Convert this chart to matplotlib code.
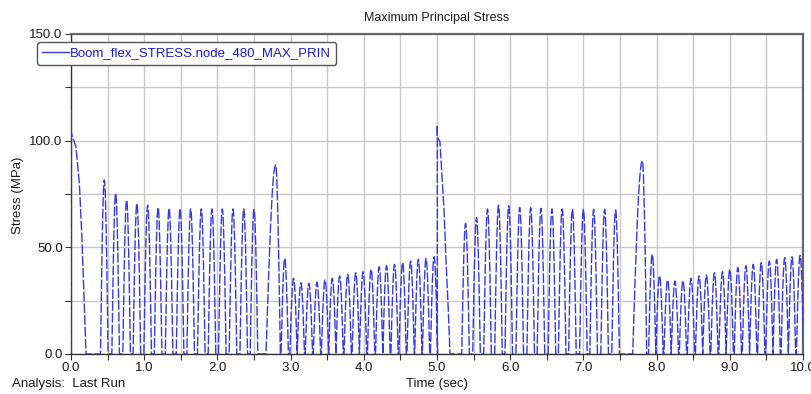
import numpy as np
import matplotlib
matplotlib.use("Agg")
import matplotlib.pyplot as plt
from matplotlib.ticker import MultipleLocator, FormatStrFormatter

plt.rcParams['font.family'] = ['Liberation Sans', 'DejaVu Sans']

# Start-up and mid-run load steps: jump at the step, then decay to zero
step0_spike = 114.0
step0_t = [0.0, 0.068, 0.114, 0.146, 0.18, 0.205]
step0_v = [104.0, 97.0, 80.0, 57.0, 25.0, 0.0]

step5_spike = 107.4
step5_t = [5.004, 5.04, 5.064, 5.096, 5.123, 5.154, 5.178]
step5_v = [102.0, 99.5, 86.0, 67.5, 44.0, 20.6, 0.0]

# Slow cycles (period ~0.146 s)
peaks_a_t = [0.455, 0.61, 0.76, 0.90, 1.047, 1.19, 1.34, 1.49, 1.635, 1.78,
             1.926, 2.067, 2.213, 2.36, 2.50]
peaks_a_v = [81.6, 75.3, 72.2, 70.6, 69.8, 68.7, 68.3, 68.2, 68.0, 68.0,
             68.0, 68.0, 68.0, 68.0, 67.8]

peaks_c_t = [5.39, 5.54, 5.69, 5.84, 5.98, 6.13, 6.28, 6.42, 6.57, 6.71,
             6.85, 7.00, 7.14, 7.29, 7.44]
peaks_c_v = [61.2, 63.9, 68.0, 69.8, 69.5, 68.7, 68.6, 68.3, 68.0, 68.0,
             67.8, 67.8, 67.8, 67.8, 67.5]

# Fast cycles (period ~0.107 s)
peaks_b_t = [2.92, 3.04, 3.14, 3.25, 3.36, 3.47, 3.57, 3.67, 3.78, 3.89,
             3.99, 4.10, 4.21, 4.31, 4.42, 4.53, 4.64, 4.745, 4.85, 4.96]
peaks_b_v = [44.8, 35.5, 33.4, 33.1, 33.6, 34.7, 35.5, 36.6, 37.3, 38.1,
             38.6, 39.7, 40.9, 41.4, 42.0, 42.8, 43.6, 44.4, 44.8, 45.6]

peaks_d_t = [7.94, 8.04, 8.15, 8.25, 8.36, 8.47, 8.58, 8.68, 8.79, 8.90,
             9.00, 9.11, 9.22, 9.32, 9.43, 9.54, 9.64, 9.75, 9.85, 9.96, 10.07]
peaks_d_v = [46.7, 36.7, 34.7, 34.2, 34.4, 35.5, 36.6, 37.0, 38.1, 38.6,
             39.7, 40.5, 41.3, 42.0, 42.8, 43.6, 44.4, 45.2, 45.6, 46.2, 46.8]

# Transition pulses: start, peak time, peak value, end
big_start = [2.664, 7.673]
big_peak_t = [2.796, 7.805]
big_peak_v = [88.6, 90.6]
big_end = [2.86, 7.865]


def pulse(t0, tp, h, t1, n=12):
    up = np.linspace(t0, tp, n)
    dn = np.linspace(tp, t1, n)[1:]
    y_up = h * np.sin(0.5 * np.pi * (up - t0) / (tp - t0))
    y_dn = h * np.cos(0.5 * np.pi * (dn - tp) / (t1 - tp))
    return list(up) + list(dn), list(y_up) + list(y_dn)


pieces = []
for tp, h in zip(peaks_a_t + peaks_c_t, peaks_a_v + peaks_c_v):
    pieces.append(pulse(tp - 0.052, tp, h, tp + 0.052))
for tp, h in zip(peaks_b_t + peaks_d_t, peaks_b_v + peaks_d_v):
    pieces.append(pulse(tp - 0.05, tp, h, tp + 0.05))
for t0, tp, h, t1 in zip(big_start, big_peak_t, big_peak_v, big_end):
    pieces.append(pulse(t0, tp, h, t1))
pieces.append(([step0_t[0], step0_t[0]] + step0_t, [0.0, step0_spike] + step0_v))
pieces.append(([step5_t[0], step5_t[0]] + step5_t, [0.0, step5_spike] + step5_v))
pieces.sort(key=lambda p: p[0][0])

t = []
y = []
for px, py in pieces:
    t += px
    y += py

fig = plt.figure(figsize=(8.12, 3.94), dpi=100)
ax = fig.add_axes([71 / 812, 1 - 354 / 394, 732 / 812, 320 / 394])

ax.plot(t, y, color='#3838e0', lw=1.0, dashes=(7, 1.5), zorder=5,
        label='Boom_flex_STRESS.node_480_MAX_PRIN')

ax.set_xlim(0, 10)
ax.set_ylim(0, 150)
ax.xaxis.set_major_locator(MultipleLocator(1.0))
ax.xaxis.set_minor_locator(MultipleLocator(0.5))
ax.yaxis.set_major_locator(MultipleLocator(50))
ax.yaxis.set_minor_locator(MultipleLocator(25))
ax.xaxis.set_major_formatter(FormatStrFormatter('%.1f'))
ax.yaxis.set_major_formatter(FormatStrFormatter('%.1f'))
ax.grid(True, which='both', color='#c8c8c8', lw=1.0, zorder=0)
ax.set_axisbelow(True)
ax.tick_params(which='both', direction='out', length=4, width=0.8,
               color='#333333', labelsize=9.5, labelcolor='#1a1a1a', pad=2)

for side in ['left', 'bottom']:
    ax.spines[side].set_color('#333333')
    ax.spines[side].set_linewidth(1.0)
for side in ['top', 'right']:
    ax.spines[side].set_color('#666666')
    ax.spines[side].set_linewidth(1.6)

fig.text(437 / 812, 1 - 18 / 394, 'Maximum Principal Stress', ha='center',
         va='center', fontsize=9, color='#1a1a1a')
fig.text(437 / 812, 1 - 384 / 394, 'Time (sec)', ha='center', va='center',
         fontsize=9.5, color='#1a1a1a')
fig.text(12 / 812, 1 - 384 / 394, 'Analysis:  Last Run', ha='left',
         va='center', fontsize=9.5, color='#1a1a1a')
fig.text(18 / 812, 1 - 195 / 394, 'Stress (MPa)', ha='center', va='center',
         rotation=90, fontsize=9.5, color='#1a1a1a')

leg = fig.legend(handles=[plt.Line2D([], [], color='#3838e0', lw=1.0)],
                 labels=['Boom_flex_STRESS.node_480_MAX_PRIN'],
                 loc='upper left', bbox_to_anchor=(37 / 812, 1 - 42 / 394),
                 fontsize=9.5, labelcolor='#1a1ad0', handlelength=2.0,
                 handletextpad=0.1, borderpad=0.4, borderaxespad=0,
                 fancybox=True, framealpha=1, edgecolor='#555555')
leg.get_frame().set_linewidth(1.0)

fig.savefig('out.png', dpi=100)
